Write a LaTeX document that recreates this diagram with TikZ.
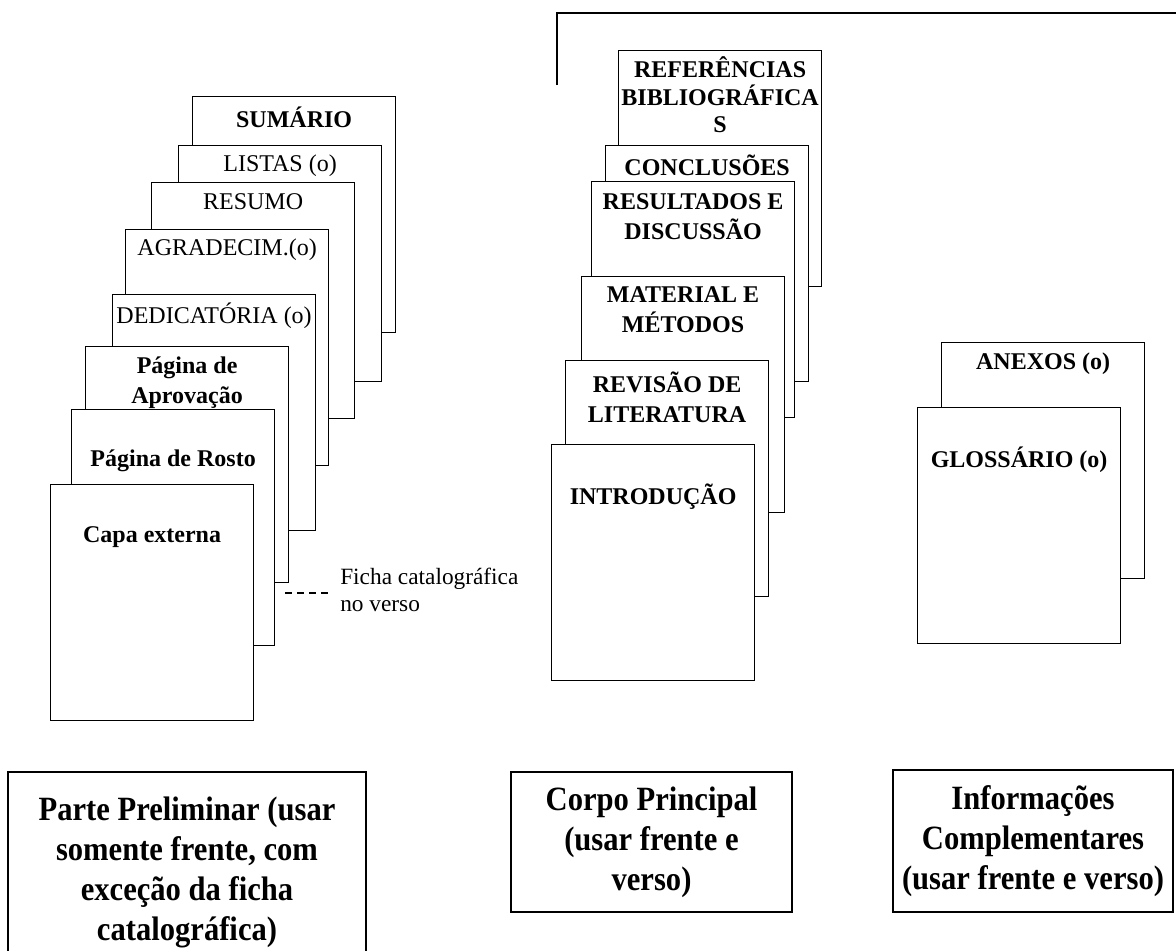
\documentclass[tikz,border=0pt]{standalone}
\usepackage{fontspec}
\setmainfont{Liberation Serif}
\newfontfamily\condfont[FakeStretch=0.9]{Liberation Serif}
\usetikzlibrary{calc}
\begin{document}
\begin{tikzpicture}[x=0.75pt,y=-0.75pt,
  page/.style={draw, fill=white, line width=0.9pt, minimum width=152.25pt, minimum height=177pt, anchor=north west, inner sep=0},
  lblr/.style={font=\fontsize{18}{22.5}\selectfont, align=center, inner sep=0},
  lblb/.style={font=\fontsize{18}{22.5}\selectfont\bfseries, align=center, inner sep=0},
  bigbox/.style={draw, line width=1pt, align=center, inner sep=0, font=\condfont\fontsize{25.5}{30}\selectfont\bfseries},
  fichadash/.style={line width=0.9pt, dash pattern=on 5.25pt off 3.75pt},
  bracket/.style={line width=1.5pt}]
\useasboundingbox (0,0) rectangle (1176,950);
\clip (0,0) rectangle (1176,950);
% ---------- left stack ----------
\node[page] (sum) at (192,96) {};
\node[lblb] (tsum) at ($(sum.north)+(0,21)$) {SUMÁRIO};
\node[page] (lis) at (178,145) {};
\node[lblr] (tlis) at ($(lis.north)+(0,21)$) {LISTAS (o)};
\node[page] (res) at (151,182) {};
\node[lblr] (tres) at ($(res.north)+(0,20)$) {RESUMO};
\node[page] (agr) at (125,229) {};
\node[lblr] (tagr) at ($(agr.north)+(0,21)$) {AGRADECIM.(o)};
\node[page] (ded) at (112,294) {};
\node[lblr] (tded) at ($(ded.north)+(0,22)$) {DEDICATÓRIA (o)};
\node[page] (apr) at (85,346) {};
\node[lblb] (tapr) at ($(apr.north)+(0,37)$) {Página de\\Aprovação};
\node[page] (ros) at (71,409) {};
\node[lblb] (tros) at ($(ros.north)+(0,52)$) {Página de Rosto};
\node[page] (cap) at (50,484) {};
\node[lblb] (tcap) at ($(cap.north)+(0,53)$) {Capa externa};
% ficha
\node[anchor=west, align=left, inner sep=0, font=\fontsize{17.5}{20}\selectfont] (ficha) at (340,590) {Ficha catalográfica\\no verso};
\coordinate (fa) at (285,593);
\draw[fichadash] (fa) -- ($(fa -| ficha.west)+(-8,0)$);
% ---------- middle stack ----------
\coordinate (bra) at (557,85);
\coordinate (brb) at (557,13);
\coordinate (brc) at (1180,13);
\draw[bracket] (bra) -- (brb) -- (brc);
\node[page] (ref) at (618,50) {};
\node[lblb, font=\fontsize{18}{20.5}\selectfont\bfseries] (tref) at ($(ref.north)+(0,45)$) {REFERÊNCIAS\\BIBLIOGRÁFICA\\S};
\node[page] (con) at (605,145) {};
\node[lblb] (tcon) at ($(con.north)+(0,20)$) {CONCLUSÕES};
\node[page] (rdi) at (591,181) {};
\node[lblb] (trdi) at ($(rdi.north)+(0,36)$) {RESULTADOS E\\DISCUSSÃO};
\node[page] (mat) at (581,276) {};
\node[lblb] (tmat) at ($(mat.north)+(0,34)$) {MATERIAL E\\MÉTODOS};
\node[page] (rev) at (565,360) {};
\node[lblb] (trev) at ($(rev.north)+(0,37)$) {REVISÃO DE\\LITERATURA};
\node[page] (int) at (551,444) {};
\node[lblb] (tint) at ($(int.north)+(0,53)$) {INTRODUÇÃO};
% ---------- right stack ----------
\node[page] (ane) at (941,342) {};
\node[lblb] (tane) at ($(ane.north)+(0,22)$) {ANEXOS (o)};
\node[page] (glo) at (917,407) {};
\node[lblb] (tglo) at ($(glo.north)+(0,53)$) {GLOSSÁRIO (o)};
% ---------- bottom boxes ----------
\node[bigbox, minimum width=268.5pt, minimum height=150pt] (parte) at (187,872) {Parte Preliminar (usar\\somente frente, com\\exceção da ficha\\catalográfica)};
\node[bigbox, minimum width=210.75pt, minimum height=105pt] (corpo) at (651.5,842) {Corpo Principal\\(usar frente e\\verso)};
\node[bigbox, minimum width=210pt, minimum height=106.5pt] (info) at (1033,841) {Informações\\Complementares\\(usar frente e verso)};
\end{tikzpicture}
\end{document}
